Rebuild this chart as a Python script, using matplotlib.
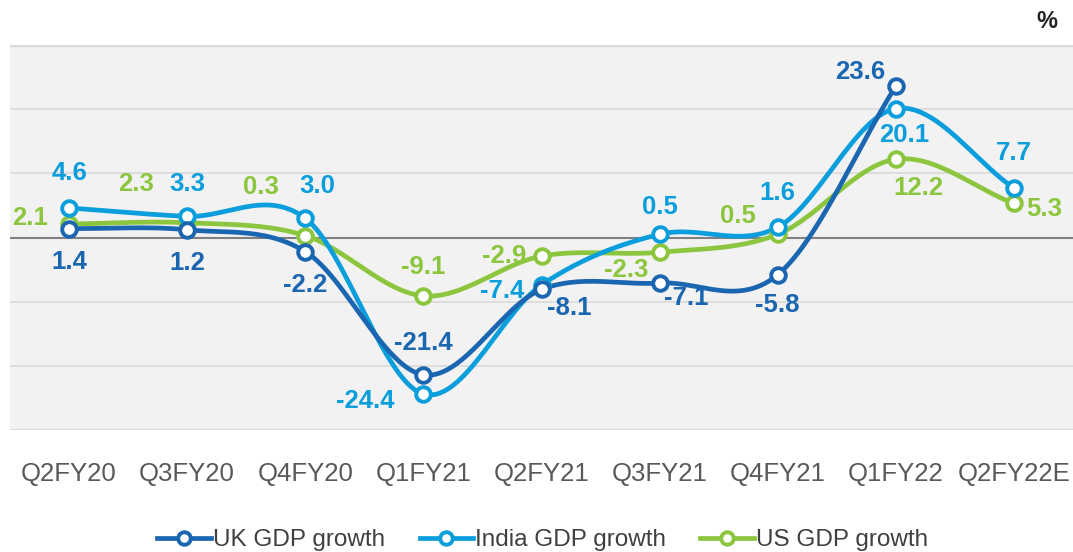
import matplotlib.pyplot as plt
import numpy as np

plt.rcParams['font.family'] = ['Liberation Sans', 'DejaVu Sans']

# quarters and GDP growth (%)
quarters = ["Q2FY20", "Q3FY20", "Q4FY20", "Q1FY21", "Q2FY21",
            "Q3FY21", "Q4FY21", "Q1FY22", "Q2FY22E"]
uk = [1.4, 1.2, -2.2, -21.4, -8.1, -7.1, -5.8, 23.6, np.nan]
india = [4.6, 3.3, 3.0, -24.4, -7.4, 0.5, 1.6, 20.1, 7.7]
us = [2.1, 2.3, 0.3, -9.1, -2.9, -2.3, 0.5, 12.2, 5.3]

# label offsets in points (dx, dy) for each point
uk_off = [(0, -24), (0, -24), (0, -24), (0, 23), (20, -13), (19, -11), (0, -22), (-26, 10), (0, 0)]
india_off = [(0, 25), (0, 23), (9, 23), (-42, -5), (-28, -4), (0, 20), (0, 25), (6, -19), (0, 25)]
us_off = [(-28, 4), (-37, 28), (-32, 35), (0, 21), (-27, 0), (-24, -13), (-29, 13), (16, -21), (22, -4)]

UK_C = "#1a66b0"
IN_C = "#0a9edc"
US_C = "#8cc63f"


def smooth(xs, ys, n=30):
    # catmull-rom through the points, like excel's smoothed line
    xs = np.asarray(xs, float)
    ys = np.asarray(ys, float)
    px = np.concatenate([[2*xs[0]-xs[1]], xs, [2*xs[-1]-xs[-2]]])
    py = np.concatenate([[2*ys[0]-ys[1]], ys, [2*ys[-1]-ys[-2]]])
    outx, outy = [], []
    t = np.linspace(0, 1, n)
    for i in range(1, len(px)-2):
        for arr, out in ((px, outx), (py, outy)):
            p0, p1, p2, p3 = arr[i-1], arr[i], arr[i+1], arr[i+2]
            out.extend(0.5*((2*p1) + (-p0+p2)*t + (2*p0-5*p1+4*p2-p3)*t**2
                            + (-p0+3*p1-3*p2+p3)*t**3))
    return np.array(outx), np.array(outy)


fig = plt.figure(figsize=(10.73, 5.52), dpi=100)
ax = fig.add_axes([10/1073, 1-430/552, 1-10/1073, 385/552])
ax.set_facecolor("#f2f2f2")
ax.set_xlim(-0.5, len(quarters)-0.5)
ax.set_ylim(-30, 30)
ax.set_yticks(range(-30, 31, 10))
ax.yaxis.grid(True, color="#d9d9d9", lw=1.2)
ax.set_axisbelow(True)
ax.tick_params(axis='y', left=False, labelleft=False)
ax.tick_params(axis='x', length=0, pad=23, labelsize=18.5, labelcolor="#595959")
for s in ax.spines.values():
    s.set_visible(False)
ax.axhline(30, color="#d9d9d9", lw=2.5, zorder=1)
ax.axhline(0, color="#808080", lw=1.5, zorder=1)

x = np.arange(len(quarters))
ax.set_xticks(x)
ax.set_xticklabels(quarters)

series = [("UK GDP growth", uk, UK_C, uk_off),
          ("India GDP growth", india, IN_C, india_off),
          ("US GDP growth", us, US_C, us_off)]

handles = []
for name, vals, col, offs in series[::-1]:
    vals = np.array(vals, float)
    ok = ~np.isnan(vals)
    sx, sy = smooth(x[ok], vals[ok])
    ax.plot(sx, sy, color=col, lw=3.4, solid_capstyle='round', zorder=3)
    ax.plot(x[ok], vals[ok], 'o', ms=10.5, mfc="white", mec=col, mew=2.8, zorder=4)
    for xi, v, o in zip(x, vals, offs):
        if np.isnan(v):
            continue
        ax.annotate(f"{v:.1f}", (xi, v), xytext=o, textcoords='offset points',
                    ha='center', va='center', fontsize=18.5, fontweight='bold',
                    color=col, zorder=5)

for name, vals, col, offs in series:
    h, = ax.plot([], [], color=col, lw=3.4, marker='o', ms=9, mfc="white",
                 mec=col, mew=2.8, label=name)
    handles.append(h)

fig.legend(handles=handles, loc='center', bbox_to_anchor=(543/1073, 1-540/552),
           ncol=3, frameon=False, fontsize=17.5, handlelength=2.2,
           handletextpad=0.1, columnspacing=1.4, labelcolor="#404040")

fig.text(1047/1073, 1-22/552, "%", ha='center', va='center', fontsize=17,
         fontweight='bold', color="#222222")

fig.savefig("out.png", dpi=100)
